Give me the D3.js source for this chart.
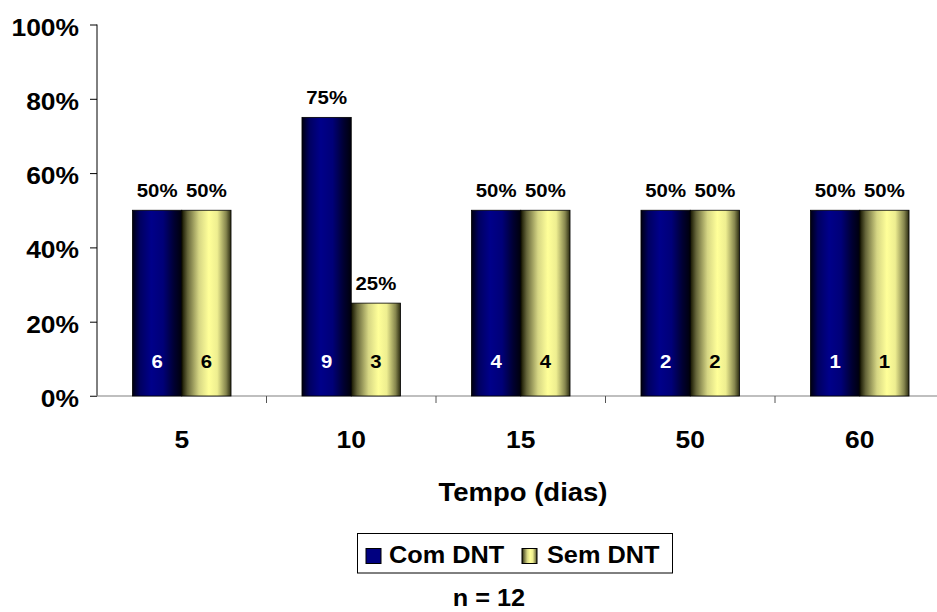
<!DOCTYPE html>
<html>
<head>
<meta charset="utf-8">
<script src="https://d3js.org/d3.v7.min.js"></script>
<style>
  body { margin: 0; background: #fff; }
  svg { display: block; font-family: Arial, "Liberation Sans", sans-serif; }
  text { font-weight: bold; }
</style>
</head>
<body>
<svg id="chart" width="937" height="612"></svg>
<script>
// Share of patients with / without DNT by time point
const categories = ["5", "10", "15", "50", "60"];
const seriesNames = ["Com DNT", "Sem DNT"];
const comDNT = [0.50, 0.75, 0.50, 0.50, 0.50];
const semDNT = [0.50, 0.25, 0.50, 0.50, 0.50];
const comCount = [6, 9, 4, 2, 1];
const semCount = [6, 3, 4, 2, 1];
const yTicks = [0, 0.2, 0.4, 0.6, 0.8, 1.0];
const xTitle = "Tempo (dias)";
const footnote = "n = 12";

const svg = d3.select("#chart");
const margin = { left: 97, top: 24.5, bottom: 396 };
const plotRight = 944.5;
const STRETCH = 1.1; // labels are drawn slightly widened

const x = d3.scaleBand().domain(categories).range([margin.left, plotRight]).paddingInner(0).paddingOuter(0);
const inner = d3.scaleBand().domain(seriesNames).range([0, x.bandwidth()]).paddingInner(0).paddingOuter(0.72);
const y = d3.scaleLinear().domain([0, 1]).range([margin.bottom, margin.top]);
const pct = d3.format(".0%");

// place a text whose glyphs are widened around its anchor point
function label(sel, px, py, size, anchor) {
  return sel.attr("transform", `translate(${px},${py}) scale(${STRETCH},1)`)
    .attr("font-size", size).attr("text-anchor", anchor || "middle");
}

// Horizontal shading that gives the bars a cylinder look
const defs = svg.append("defs");
const navy = defs.append("linearGradient").attr("id", "gNavy").attr("x1", "0").attr("x2", "1").attr("y1", "0").attr("y2", "0");
[[0, "#000010"], [0.15, "#000060"], [0.38, "#00008a"], [0.62, "#000078"], [0.85, "#000030"], [1, "#00000c"]]
  .forEach(([o, c]) => navy.append("stop").attr("offset", o).attr("stop-color", c));
const yellow = defs.append("linearGradient").attr("id", "gYellow").attr("x1", "0").attr("x2", "1").attr("y1", "0").attr("y2", "0");
[[0, "#141400"], [0.12, "#66663a"], [0.35, "#d6d684"], [0.55, "#ffff99"], [0.72, "#eeee90"], [0.9, "#86864e"], [1, "#2a2a10"]]
  .forEach(([o, c]) => yellow.append("stop").attr("offset", o).attr("stop-color", c));

const series = [
  { name: seriesNames[0], values: comDNT, counts: comCount, fill: "url(#gNavy)", swatch: "#000080", countColor: "#fff" },
  { name: seriesNames[1], values: semDNT, counts: semCount, fill: "url(#gYellow)", swatch: "url(#gYellow)", countColor: "#000" }
];

// Y axis
const yAxis = d3.axisLeft(y).tickValues(yTicks).tickFormat(pct).tickSize(7);
const yg = svg.append("g").attr("transform", `translate(${margin.left},0)`).call(yAxis);
yg.select(".domain").attr("stroke", "#000").attr("d", `M0,${margin.top}V${margin.bottom}`);
yg.selectAll(".tick line").attr("stroke", "#000");
yg.selectAll(".tick text").each(function () {
  label(d3.select(this).attr("x", null).attr("dy", null).attr("fill", "#000"), -18, 10.5, 24, "end");
});

// X axis with ticks at category boundaries
svg.append("line").attr("x1", margin.left - 7).attr("x2", 937).attr("y1", margin.bottom).attr("y2", margin.bottom)
  .attr("stroke", "#808080").attr("stroke-width", 1.2);
const bounds = categories.map(c => x(c) + x.bandwidth());
svg.append("g").selectAll("line").data(bounds.filter(b => b < 937)).join("line")
  .attr("x1", d => d).attr("x2", d => d).attr("y1", margin.bottom).attr("y2", margin.bottom + 7)
  .attr("stroke", "#555");

svg.append("g").selectAll("text").data(categories).join("text")
  .each(function (d) { label(d3.select(this), x(d) + x.bandwidth() / 2, 448, 24); })
  .text(d => d);

// Bars
series.forEach(s => {
  const g = svg.append("g");
  const data = categories.map((c, i) => ({ c, v: s.values[i], n: s.counts[i] }));
  const cx = d => x(d.c) + inner(s.name) + inner.bandwidth() / 2;
  g.selectAll("rect").data(data).join("rect")
    .attr("x", d => x(d.c) + inner(s.name))
    .attr("y", d => y(d.v))
    .attr("width", inner.bandwidth())
    .attr("height", d => y(0) - y(d.v))
    .attr("fill", s.fill)
    .attr("stroke", "#000").attr("stroke-width", 0.8);
  g.selectAll("text.pct").data(data).join("text").attr("class", "pct")
    .each(function (d) { label(d3.select(this), cx(d), y(d.v) - 13.5, 18.5); })
    .text(d => pct(d.v));
  g.selectAll("text.cnt").data(data).join("text").attr("class", "cnt")
    .each(function (d) { label(d3.select(this), cx(d), 368, 18.5); })
    .attr("fill", s.countColor)
    .text(d => d.n);
});

// Axis title
label(svg.append("text"), 523, 501, 25).text(xTitle);

// Legend
const lg = svg.append("g");
lg.append("rect").attr("x", 357.5).attr("y", 533.5).attr("width", 315).attr("height", 39.5)
  .attr("fill", "#fff").attr("stroke", "#000").attr("stroke-width", 1);
const legendItems = [
  { name: series[0].name, fill: series[0].swatch, x: 366, tx: 389 },
  { name: series[1].name, fill: series[1].swatch, x: 522, tx: 547 }
];
legendItems.forEach(it => {
  lg.append("rect").attr("x", it.x).attr("y", 548.5).attr("width", 15).attr("height", 15)
    .attr("fill", it.fill).attr("stroke", "#000").attr("stroke-width", 1);
  label(lg.append("text"), it.tx, 563, 23, "start").text(it.name);
});

// Sample size
label(svg.append("text"), 489, 606, 23).text(footnote);
</script>
</body>
</html>
